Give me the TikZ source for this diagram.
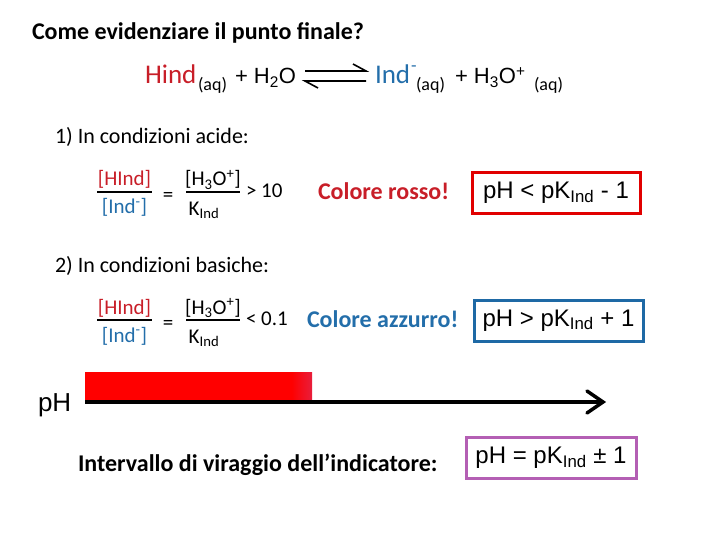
\documentclass[tikz,border=0pt]{standalone}
\usepackage{fontspec}
\setmainfont{Carlito}
\newfontfamily\arial{Liberation Sans}
\definecolor{hred}{RGB}{200,30,40}
\definecolor{hblue}{RGB}{35,110,170}
\definecolor{boxred}{RGB}{225,0,0}
\definecolor{boxblue}{RGB}{30,105,165}
\definecolor{boxpurple}{RGB}{180,95,180}
\definecolor{barend}{RGB}{232,30,60}
\tikzset{
  txt/.style={inner sep=0pt, outer sep=0pt},
  fr/.style={txt, font=\fontsize{21}{21}\selectfont},
  eqa/.style={txt, font=\arial\fontsize{22}{22}\selectfont},
  big/.style={txt, font=\fontsize{27}{27}\selectfont},
  aq/.style={txt, font=\fontsize{18}{18}\selectfont},
  phbox/.style={draw, line width=3pt, minimum width=#1, minimum height=41pt, inner sep=0pt, font=\arial\fontsize{24}{24}\selectfont},
}
\begin{document}
\begin{tikzpicture}[x=1pt,y=-1pt]
\useasboundingbox (0,0) rectangle (720,540);
% title
\node[txt, anchor=base west, font=\bfseries\fontsize{24}{24}\selectfont] (title) at (32,40) {Come evidenziare il punto finale?};
% equation
\node[big, hred, anchor=base west] (hind) at (145,84) {Hind};
\node[aq, anchor=base west] (aq1) at (198,91) {(aq)};
\node[eqa, anchor=base west] (h2o) at (235,84) {+ H\textsubscript{2}O};
\coordinate (a1) at (305,71); \coordinate (a2) at (366,71);
\coordinate (b1) at (305,81); \coordinate (b2) at (366,81);
\draw[line width=1.6pt] (a1) -- (a2) -- ++(-13,-7);
\draw[line width=1.6pt] (b2) -- (b1) -- ++(13,7);
\node[big, hblue, anchor=base west] (ind) at (375,84) {Ind};
\node[aq, hblue, anchor=base west] (indm) at (411,72) {-};
\node[aq, anchor=base west] (aq2) at (416,91) {(aq)};
\node[eqa, anchor=base west] (h3o) at (455,84) {+ H\textsubscript{3}O\textsuperscript{+}};
\node[aq, anchor=base west] (aq3) at (534,91) {(aq)};
% section 1
\node[txt, anchor=base west, font=\fontsize{22}{22}\selectfont] (s1) at (55,144) {1) In condizioni acide:};
\node[fr, hred, anchor=base] (n1) at (124.5,186) {[HInd]};
\draw[line width=1.4pt] (97,192) -- (152,192);
\node[fr, hblue, anchor=base] (d1) at (124.5,214) {[Ind\textsuperscript{-}]};
\node[fr] (eq1) at (168,197) {=};
\node[fr, anchor=base] (n1b) at (213,186) {[H\textsubscript{3}O\textsuperscript{+}]};
\draw[line width=1.4pt] (186,192) -- (240,192);
\node[fr, anchor=base] (d1b) at (204,215) {K\textsubscript{Ind}};
\node[fr, anchor=west] (gt) at (246,191) {> 10};
\node[txt, hred, anchor=base west, font=\bfseries\fontsize{24}{24}\selectfont] (rosso) at (318,200) {Colore rosso!};
\node[phbox=168pt, boxred] (box1) at (556,193) {\textcolor{black}{pH < pK\textsubscript{Ind} - 1}};
% section 2
\node[txt, anchor=base west, font=\fontsize{22}{22}\selectfont] (s2) at (55,272) {2) In condizioni basiche:};
\node[fr, hred, anchor=base] (n2) at (124.5,314) {[HInd]};
\draw[line width=1.4pt] (97,320) -- (152,320);
\node[fr, hblue, anchor=base] (d2) at (124.5,342) {[Ind\textsuperscript{-}]};
\node[fr] (eq2) at (168,325) {=};
\node[fr, anchor=base] (n2b) at (213,314) {[H\textsubscript{3}O\textsuperscript{+}]};
\draw[line width=1.4pt] (186,320) -- (240,320);
\node[fr, anchor=base] (d2b) at (204,343) {K\textsubscript{Ind}};
\node[fr, anchor=west] (lt) at (246,319) {< 0.1};
\node[txt, hblue, anchor=base west, font=\bfseries\fontsize{24}{24}\selectfont] (azz) at (307,327) {Colore azzurro!};
\node[phbox=169pt, boxblue] (box2) at (558.5,320.5) {\textcolor{black}{pH > pK\textsubscript{Ind} + 1}};
% pH axis
\node[txt, anchor=base west, font=\arial\fontsize{26}{26}\selectfont] (ph) at (38,411) {pH};
\fill[red] (85,372) rectangle (292,400);
\shade[left color=red, right color=barend] (291.5,372) rectangle (312,400);
\coordinate (ax0) at (85,402);
\coordinate (ax1) at (603,402);
\draw[line width=3.5pt] (ax0) -- (ax1);
\draw[line width=3.5pt, line cap=round, line join=miter] (587,391) -- (603,402) -- (587,413);
% interval
\node[txt, anchor=base west, font=\bfseries\fontsize{24}{24}\selectfont] (interv) at (78,471) {Intervallo di viraggio dell’indicatore:};
\node[phbox=170pt, boxpurple] (box3) at (551,458) {\textcolor{black}{pH = pK\textsubscript{Ind} ± 1}};
\end{tikzpicture}
\end{document}
